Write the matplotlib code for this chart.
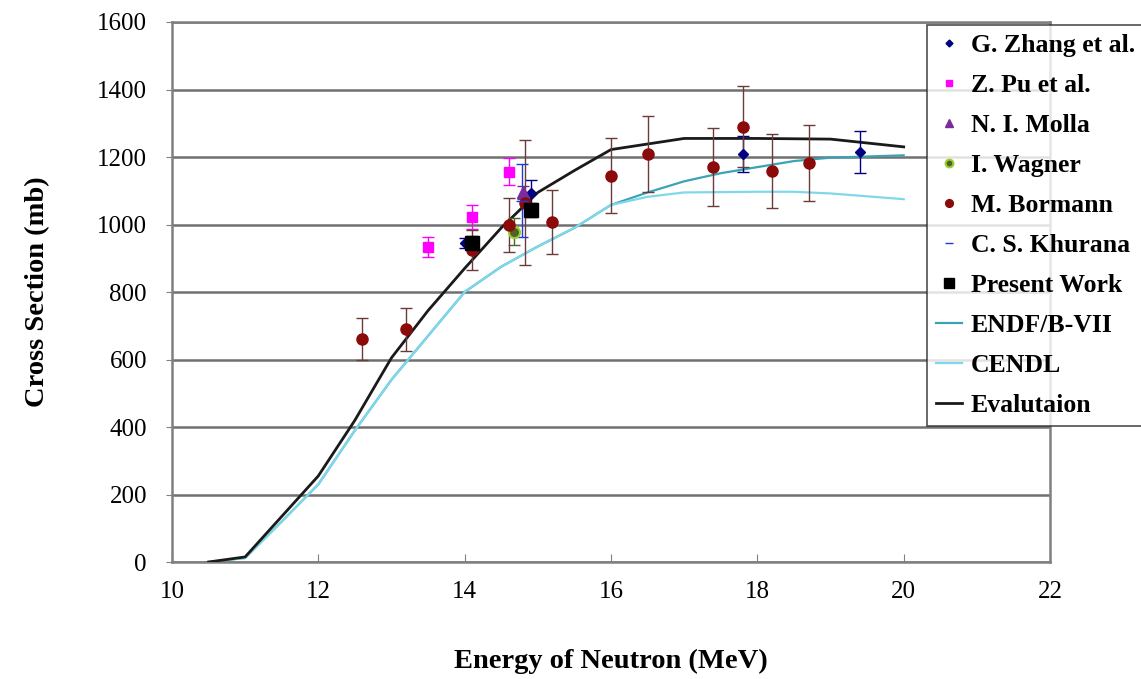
import matplotlib
matplotlib.use("Agg")
import matplotlib.pyplot as plt
from matplotlib.lines import Line2D

plt.rcParams['font.family'] = ['Liberation Serif', 'DejaVu Serif']

# evaluated curves
e_eval = [10.5, 11.0, 11.5, 12.0, 12.5, 13.0, 13.5, 14.0, 14.5, 15.0, 15.5, 16.0, 17.0, 18.0, 19.0, 20.0]
s_eval = [0, 15, 135, 255, 420, 605, 745, 870, 990, 1095, 1160, 1222, 1255, 1255, 1253, 1230]

e_endf = [10.5, 11.0, 11.5, 12.0, 12.5, 13.0, 13.5, 14.0, 14.5, 15.0, 15.5, 16.0, 16.5, 17.0, 17.5, 18.0, 18.5, 19.0, 20.0]
s_endf = [0, 12, 120, 230, 390, 540, 670, 800, 875, 935, 990, 1058, 1095, 1128, 1152, 1170, 1188, 1198, 1205]

e_cendl = [10.5, 11.0, 11.5, 12.0, 12.5, 13.0, 13.5, 14.0, 14.5, 15.0, 15.5, 16.0, 16.5, 17.0, 18.0, 18.5, 19.0, 20.0]
s_cendl = [0, 12, 120, 230, 390, 540, 670, 800, 875, 935, 990, 1058, 1082, 1095, 1097, 1097, 1092, 1075]

# measurements
zhang_e = [14.0, 14.9, 17.8, 19.4]
zhang_s = [945, 1093, 1209, 1215]
zhang_err = [15, 40, 52, 62]

pu_e = [13.5, 14.1, 14.6]
pu_s = [933, 1022, 1156]
pu_err = [30, 35, 40]

molla_e = [14.8]
molla_s = [1095]
molla_err = [20]

wagner_e = [14.68]
wagner_s = [978]
wagner_err = [40]

bormann_e = [12.6, 13.2, 14.1, 14.6, 14.82, 15.2, 16.0, 16.5, 17.4, 17.8, 18.2, 18.7]
bormann_s = [660, 690, 925, 999, 1064, 1007, 1144, 1209, 1170, 1289, 1159, 1182]
bormann_err = [62, 64, 60, 80, 185, 95, 111, 113, 115, 120, 110, 113]

khurana_e = [14.78]
khurana_s = [1070]
khurana_err = [108]

present_e = [14.1, 14.9]
present_s = [945, 1043]
present_err = [20, 20]

fig = plt.figure(figsize=(11.41, 6.79), dpi=100)
ax = fig.add_axes([0.1507, 0.1723, 0.7696, 0.7953])

ax.plot(e_endf, s_endf, color='#3BA3B4', lw=1.6, zorder=2)
ax.plot(e_cendl, s_cendl, color='#7ED8EA', lw=1.6, zorder=2)
ax.plot(e_eval, s_eval, color='#1a1a1a', lw=2.0, zorder=3)

pts = [
    (zhang_e, zhang_s, zhang_err, '#000080', 'D', 5, 'G. Zhang et al.'),
    (pu_e, pu_s, pu_err, '#FF00FF', 's', 7, 'Z. Pu et al.'),
    (molla_e, molla_s, molla_err, '#7B2C9E', '^', 8, 'N. I. Molla'),
    (wagner_e, wagner_s, wagner_err, '#4F6228', 'o', 8, 'I. Wagner'),
    (bormann_e, bormann_s, bormann_err, '#8B0A0A', 'o', 8, 'M. Bormann'),
    (khurana_e, khurana_s, khurana_err, '#1F3BD6', '_', 8, 'C. S. Khurana'),
    (present_e, present_s, present_err, '#000000', 's', 10, 'Present Work'),
]
handles = []
for e, s, err, c, m, ms, lab in pts:
    ecol = c if lab != 'M. Bormann' else '#6B3B3B'
    ax.errorbar(e, s, yerr=err, fmt='none', ecolor=ecol, elinewidth=1, capsize=4, zorder=4)
    kw = dict(markeredgecolor='#9ACD32', markeredgewidth=1.5) if lab == 'I. Wagner' else {}
    h, = ax.plot(e, s, ls='none', marker=m, color=c, ms=ms, zorder=5, label=lab, **kw)
    handles.append(h)

handles.append(Line2D([], [], color='#3BA3B4', lw=1.6, label='ENDF/B-VII'))
handles.append(Line2D([], [], color='#7ED8EA', lw=1.6, label='CENDL'))
handles.append(Line2D([], [], color='#1a1a1a', lw=2.0, label='Evalutaion'))

ax.set_xlim(10, 22)
ax.set_ylim(0, 1600)
ax.set_xticks([10, 12, 14, 16, 18, 20, 22])
ax.set_yticks(range(0, 1601, 200))
ax.yaxis.grid(True, color='#707070', lw=1.8)
ax.set_axisbelow(True)
for sp in ax.spines.values():
    sp.set_color('#808080')
    sp.set_linewidth(1.8)
ax.tick_params(axis='x', direction='in', length=6, color='#808080', labelsize=18, pad=14)
ax.tick_params(axis='y', direction='out', length=4, color='#808080', labelsize=18, pad=14)

ax.set_xlabel('Energy of Neutron (MeV)', fontsize=20.5, fontweight='bold', labelpad=33)
ax.set_ylabel('Cross Section (mb)', fontsize=20.5, fontweight='bold', labelpad=34)

leg = fig.legend(handles=handles, loc='upper left', bbox_to_anchor=(0.8125, 0.963),
                 frameon=True, fancybox=False, prop={'weight': 'bold', 'size': 18.5},
                 handlelength=1.0, handletextpad=0.35, labelspacing=0.66, markerscale=0.7,
                 borderpad=0.35, borderaxespad=0)
leg.get_frame().set_edgecolor('#222222')
leg.get_frame().set_linewidth(1.2)

fig.savefig('out.png', dpi=100)
